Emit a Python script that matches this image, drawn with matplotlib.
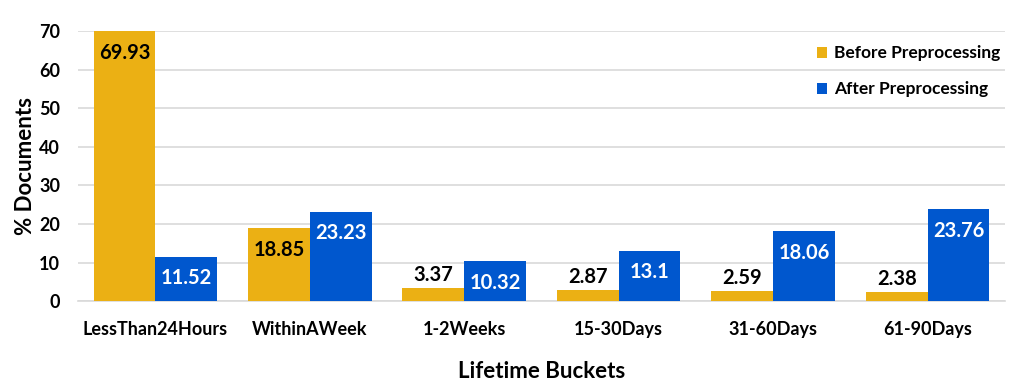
import matplotlib.pyplot as plt
import numpy as np

categories = ['LessThan24Hours', 'WithinAWeek', '1-2Weeks', '15-30Days', '31-60Days', '61-90Days']
before = [69.93, 18.85, 3.37, 2.87, 2.59, 2.38]
after = [11.52, 23.23, 10.32, 13.1, 18.06, 23.76]
before_labels = ['69.93', '18.85', '3.37', '2.87', '2.59', '2.38']
after_labels = ['11.52', '23.23', '10.32', '13.1', '18.06', '23.76']

plt.rcParams['font.family'] = ['Lato', 'DejaVu Sans']
plt.rcParams['font.weight'] = 'bold'

orange = '#EBB014'
blue = '#0057CE'

fig = plt.figure(figsize=(10.14, 3.9), dpi=100)
ax = fig.add_axes([0.077, 0.228, 0.914, 0.692])

x = np.arange(len(categories))
w = 0.4
b1 = ax.bar(x - w / 2, before, w, color=orange, label='Before Preprocessing', zorder=3)
b2 = ax.bar(x + w / 2, after, w, color=blue, label='After Preprocessing', zorder=3)


def put_labels(bars, labels, inside_color):
    # big bars get the label inside, small ones just above
    for rect, txt in zip(bars, labels):
        h = rect.get_height()
        cx = rect.get_x() + rect.get_width() / 2
        if h > 6:
            ax.text(cx, h - 5.6, txt, ha='center', va='center', fontsize=14.5,
                    fontweight='bold', color=inside_color, zorder=4)
        else:
            ax.text(cx, h + 0.7, txt, ha='center', va='bottom', fontsize=14.5,
                    fontweight='bold', color='black', zorder=4)


put_labels(b1, before_labels, 'black')
put_labels(b2, after_labels, 'white')

ax.set_xlim(-0.5, 5.5)
ax.set_ylim(0, 70)
ax.set_yticks(range(0, 71, 10))
ax.set_xticks(x)
ax.set_xticklabels(categories, fontsize=13, fontweight='bold')
ax.tick_params(axis='y', labelsize=13, length=0, pad=13)
ax.tick_params(axis='x', length=0, pad=14)
for lab in ax.get_yticklabels():
    lab.set_fontweight('bold')

ax.grid(axis='y', color='#D9D9D9', linewidth=1.2, zorder=0)
for s in ['top', 'right', 'left']:
    ax.spines[s].set_visible(False)
ax.spines['bottom'].set_color('#D9D9D9')
ax.spines['bottom'].set_linewidth(1.2)

ax.set_ylabel('% Documents', fontsize=16, fontweight='bold', labelpad=2)
ax.set_xlabel('Lifetime Buckets', fontsize=16, fontweight='bold', labelpad=17)

ax.legend(loc='upper right', bbox_to_anchor=(1.012, 1.005), frameon=False,
          fontsize=12.5, handlelength=0.6, handleheight=0.6, handletextpad=0.4,
          labelspacing=1.15)

fig.savefig('out.png', dpi=100)
